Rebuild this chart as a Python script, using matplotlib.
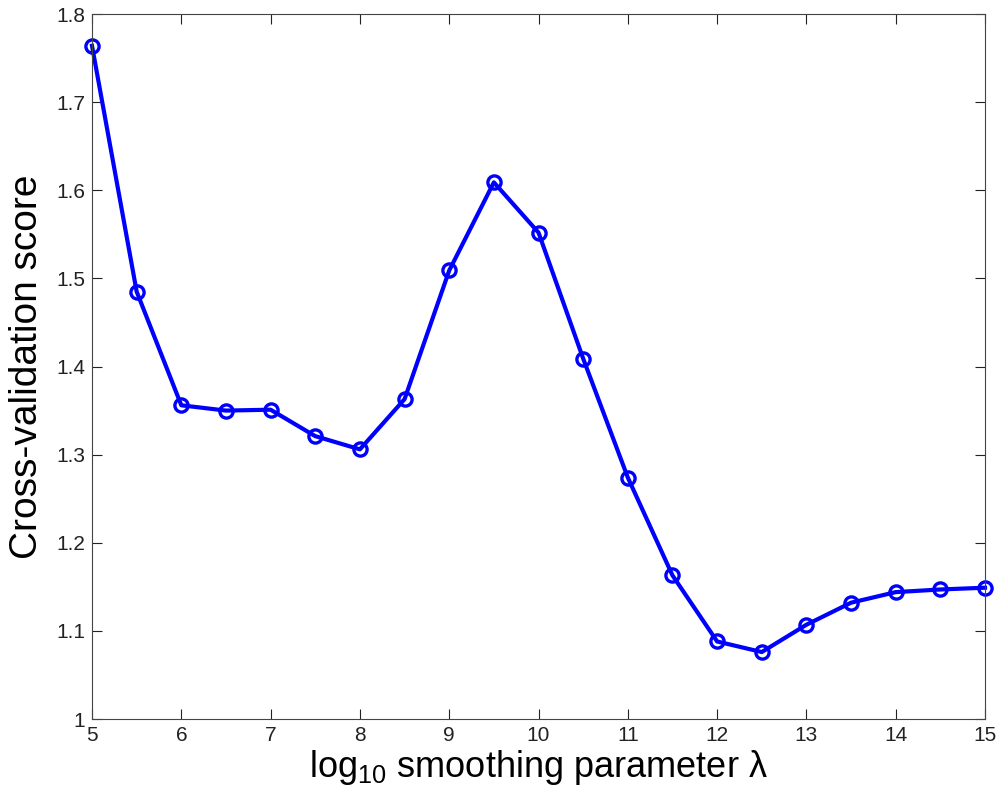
import matplotlib
matplotlib.use("Agg")
import matplotlib.pyplot as plt

# log10 smoothing parameter and CV score
log_lambda = [5, 5.5, 6, 6.5, 7, 7.5, 8, 8.5, 9, 9.5, 10,
              10.5, 11, 11.5, 12, 12.5, 13, 13.5, 14, 14.5, 15]
cv_score = [1.764, 1.485, 1.356, 1.350, 1.351, 1.321, 1.306, 1.363, 1.509, 1.609, 1.552,
            1.409, 1.274, 1.163, 1.088, 1.076, 1.107, 1.132, 1.144, 1.147, 1.149]

x_ticks = list(range(5, 16))
y_ticks = [1, 1.1, 1.2, 1.3, 1.4, 1.5, 1.6, 1.7, 1.8]
y_labels = ["1", "1.1", "1.2", "1.3", "1.4", "1.5", "1.6", "1.7", "1.8"]

plt.rcParams["font.family"] = ["Liberation Sans", "DejaVu Sans"]
plt.rcParams["mathtext.fontset"] = "custom"
plt.rcParams["mathtext.rm"] = "Liberation Sans"

fig = plt.figure(figsize=(9.98, 7.93), dpi=100)
ax = fig.add_axes([0.0922, 0.0933, 0.8948, 0.889])

ax.plot(log_lambda, cv_score, color="#0000ff", linewidth=3,
        marker="o", markersize=9.5, markerfacecolor="none",
        markeredgewidth=2.4, markeredgecolor="#0000ff", clip_on=False)

ax.set_xlim(5, 15)
ax.set_ylim(1, 1.8)
ax.set_xticks(x_ticks)
ax.set_yticks(y_ticks)
ax.set_yticklabels(y_labels)
ax.tick_params(direction="in", top=True, right=True, length=7, width=0.8,
               labelsize=15, pad=5, colors="#222222")
for sp in ax.spines.values():
    sp.set_linewidth(0.8)
    sp.set_color("#444444")

ax.set_xlabel("log$_{\\mathrm{10}}$ smoothing parameter λ", fontsize=26, labelpad=2)
ax.set_ylabel("Cross-validation score", fontsize=28, labelpad=8)

fig.savefig("out.png", dpi=100)
